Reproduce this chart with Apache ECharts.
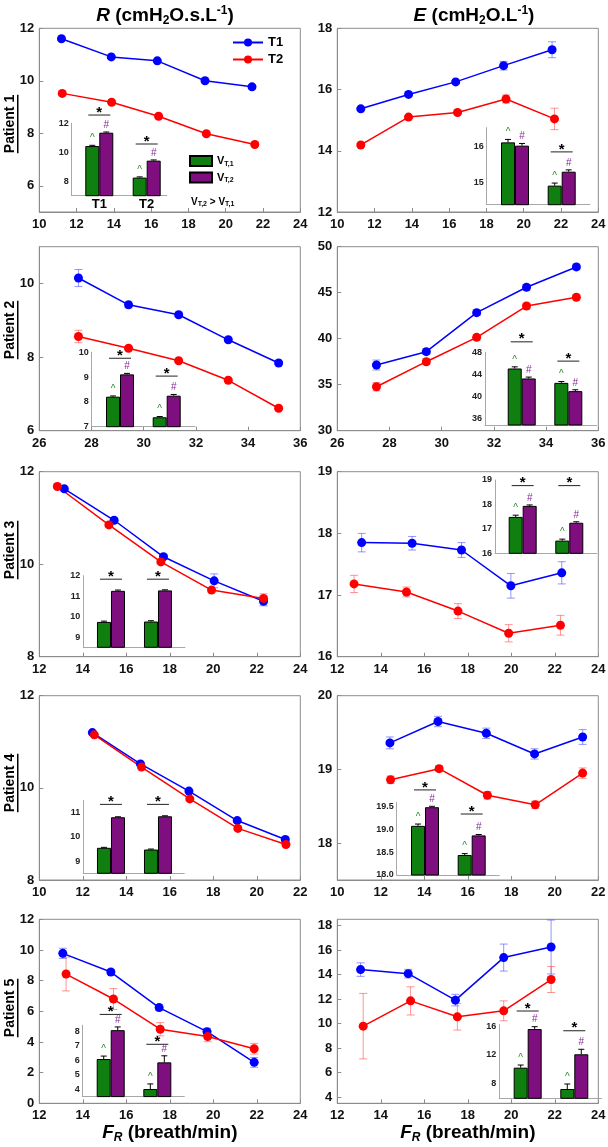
<!DOCTYPE html>
<html><head><meta charset="utf-8">
<script src="https://cdn.jsdelivr.net/npm/echarts@6.0.0/dist/echarts.min.js"></script>
<style>html,body{margin:0;padding:0;background:#fff;}#c{width:608px;height:1147px;}</style>
</head><body><div id="c"></div>
<script>
// ===== DATA: main panels, rows = [F_R (breath/min), mean, SE] =====
// Patient 1
const p1R_T1 = [[11.19,11.60,0.04],[13.86,10.91,0.04],[16.33,10.76,0.04],[18.89,10.00,0.05],[21.41,9.77,0.08]];
const p1R_T2 = [[11.23,9.52,0.04],[13.88,9.18,0.04],[16.40,8.65,0.04],[18.96,7.98,0.04],[21.56,7.57,0.04]];
const p1E_T1 = [[11.26,15.37,0.04],[13.82,15.84,0.04],[16.35,16.25,0.05],[18.92,16.78,0.14],[21.52,17.30,0.26]];
const p1E_T2 = [[11.26,14.19,0.04],[13.82,15.10,0.04],[16.45,15.25,0.05],[19.05,15.69,0.13],[21.65,15.04,0.35]];
// Patient 2
const p2R_T1 = [[27.50,10.15,0.23],[29.42,9.42,0.08],[31.34,9.15,0.05],[33.24,8.47,0.04],[35.17,7.84,0.04]];
const p2R_T2 = [[27.50,8.56,0.17],[29.42,8.24,0.05],[31.34,7.90,0.04],[33.24,7.37,0.04],[35.17,6.61,0.04]];
const p2E_T1 = [[27.50,37.14,0.54],[29.41,38.59,0.30],[31.34,42.83,0.30],[33.25,45.59,0.30],[35.16,47.80,0.30]];
const p2E_T2 = [[27.50,34.78,0.45],[29.41,37.50,0.30],[31.34,40.15,0.30],[33.25,43.55,0.30],[35.16,44.50,0.30]];
// Patient 3
const p3R_T1 = [[13.15,11.63,0.05],[15.44,10.95,0.05],[17.71,10.16,0.05],[20.04,9.64,0.15],[22.31,9.20,0.10]];
const p3R_T2 = [[12.83,11.68,0.04],[15.20,10.85,0.04],[17.59,10.05,0.04],[19.92,9.44,0.05],[22.31,9.26,0.10]];
const p3E_T1 = [[13.12,17.85,0.15],[15.44,17.84,0.11],[17.71,17.73,0.12],[19.98,17.15,0.20],[22.32,17.36,0.18]];
const p3E_T2 = [[12.77,17.18,0.14],[15.18,17.05,0.08],[17.55,16.74,0.12],[19.88,16.38,0.14],[22.26,16.51,0.16]];
// Patient 4
const p4R_T1 = [[12.44,11.20,0.03],[14.65,10.52,0.03],[16.88,9.93,0.03],[19.10,9.29,0.03],[21.31,8.88,0.03]];
const p4R_T2 = [[12.53,11.15,0.03],[14.70,10.45,0.03],[16.92,9.76,0.03],[19.13,9.12,0.03],[21.34,8.77,0.03]];
const p4E_T1 = [[12.42,19.36,0.08],[14.63,19.65,0.07],[16.85,19.49,0.07],[19.07,19.21,0.07],[21.28,19.44,0.10]];
const p4E_T2 = [[12.45,18.86,0.05],[14.68,19.01,0.04],[16.90,18.65,0.05],[19.10,18.52,0.05],[21.28,18.95,0.07]];
// Patient 5
const p5R_T1 = [[13.08,9.78,0.33],[15.29,8.56,0.15],[17.51,6.24,0.20],[19.71,4.67,0.22],[21.88,2.67,0.32]];
const p5R_T2 = [[13.23,8.43,1.10],[15.41,6.80,0.68],[17.56,4.83,0.43],[19.74,4.35,0.33],[21.88,3.56,0.35]];
const p5E_T1 = [[13.07,14.40,0.55],[15.26,14.07,0.35],[17.43,11.91,0.47],[19.65,15.38,1.10],[21.83,16.24,2.20]];
const p5E_T2 = [[13.19,9.79,2.67],[15.37,11.85,1.15],[17.52,10.55,1.08],[19.65,11.04,0.81],[21.83,13.59,1.06]];

// ===== DATA: inset bars, per group (T1, T2): [mean, SE]; star = y of significance bar; sig = ^/# marks =====
const groups = ['T1', 'T2'];
const i1R_VT1 = [[10.43,0.05],[8.25,0.05]];   const i1R_VT2 = [[11.35,0.05],[9.42,0.05]];
const i1R_star = [12.57,10.57];               const i1R_sig = [1,1];
const i1E_VT1 = [[16.10,0.08],[14.92,0.07]];  const i1E_VT2 = [[16.01,0.06],[15.30,0.05]];
const i1E_star = [null,15.84];                const i1E_sig = [1,1];
const i2R_VT1 = [[8.21,0.03],[7.38,0.03]];    const i2R_VT2 = [[9.11,0.04],[8.25,0.05]];
const i2R_star = [9.76,9.04];                 const i2R_sig = [1,1];
const i2E_VT1 = [[45.06,0.30],[42.45,0.25]];  const i2E_VT2 = [[43.25,0.25],[40.95,0.25]];
const i2E_star = [49.9,46.4];                 const i2E_sig = [1,1];
const i3R_VT1 = [[9.74,0.04],[9.76,0.04]];    const i3R_VT2 = [[11.26,0.04],[11.28,0.03]];
const i3R_star = [11.83,11.83];               const i3R_sig = [0,0];
const i3E_VT1 = [[17.49,0.07],[16.52,0.06]];  const i3E_VT2 = [[17.94,0.04],[17.25,0.04]];
const i3E_star = [18.77,18.77];               const i3E_sig = [1,1];
const i4R_VT1 = [[9.55,0.02],[9.48,0.02]];    const i4R_VT2 = [[10.81,0.02],[10.85,0.02]];
const i4R_star = [11.34,11.34];               const i4R_sig = [0,0];
const i4E_VT1 = [[19.08,0.04],[18.44,0.03]];  const i4E_VT2 = [[19.49,0.02],[18.87,0.02]];
const i4E_star = [19.87,19.34];               const i4E_sig = [1,1];
const i5R_VT1 = [[6.08,0.20],[4.02,0.35]];    const i5R_VT2 = [[8.06,0.22],[5.85,0.45]];
const i5R_star = [9.14,7.09];                 const i5R_sig = [1,1];
const i5E_VT1 = [[10.18,0.37],[7.20,0.70]];   const i5E_VT2 = [[15.58,0.33],[12.05,0.70]];
const i5E_star = [18.1,15.34];                const i5E_sig = [1,1];

// ===== TICK LABELS =====
const xt_1 = [10,12,14,16,18,20,22,24];
const xt_2 = [26,28,30,32,34,36];
const xt_3 = [12,14,16,18,20,22,24];
const xt_4 = [10,12,14,16,18,20,22];
const xt_5 = [12,14,16,18,20,22,24];
const yt_1R = [6,8,10,12];      const yt_1E = [12,14,16,18];
const yt_2R = [6,8,10];         const yt_2E = [30,35,40,45,50];
const yt_3R = [8,10,12];        const yt_3E = [16,17,18,19];
const yt_4R = [8,10,12];        const yt_4E = [18,19,20];
const yt_5R = [0,2,4,6,8,10,12];const yt_5E = [4,6,8,10,12,14,16,18];
const it_1R = ['8','10','12'];  const it_1E = ['15','16'];
const it_2R = ['7','8','9','10']; const it_2E = ['36','40','44','48'];
const it_3R = ['9','10','11','12']; const it_3E = ['16','17','18','19'];
const it_4R = ['9','10','11'];  const it_4E = ['18.0','18.5','19.0','19.5'];
const it_5R = ['4','5','6','7','8']; const it_5E = ['8','12','16'];

// ===== LAYOUT =====
const FONT = '"Liberation Sans", Arial, Helvetica, sans-serif';
const GC = '#8c8c8c';
const ROW = [[28.3,183.7],[246.7,184],[471.7,185],[695.7,184.3],[919.3,184]];
const COL = [[39.3,261],[337.3,261]];
const PAT_Y = [124,330,550,783,1008];

const mains = [
  {r:0,c:0,T1:p1R_T1,T2:p1R_T2,x:[10,24],xt:xt_1,y:[5,12],ys:1,yt:yt_1R},
  {r:0,c:1,T1:p1E_T1,T2:p1E_T2,x:[10,24],xt:xt_1,y:[12,18],ys:2,yt:yt_1E},
  {r:1,c:0,T1:p2R_T1,T2:p2R_T2,x:[26,36],xt:xt_2,y:[6,11],ys:1,yt:yt_2R},
  {r:1,c:1,T1:p2E_T1,T2:p2E_T2,x:[26,36],xt:xt_2,y:[30,50],ys:5,yt:yt_2E},
  {r:2,c:0,T1:p3R_T1,T2:p3R_T2,x:[12,24],xt:xt_3,y:[8,12],ys:2,yt:yt_3R},
  {r:2,c:1,T1:p3E_T1,T2:p3E_T2,x:[12,24],xt:xt_3,y:[16,19],ys:1,yt:yt_3E},
  {r:3,c:0,T1:p4R_T1,T2:p4R_T2,x:[10,22],xt:xt_4,y:[8,12],ys:2,yt:yt_4R},
  {r:3,c:1,T1:p4E_T1,T2:p4E_T2,x:[10,22],xt:xt_4,y:[17.5,20],ys:0.5,yt:yt_4E},
  {r:4,c:0,T1:p5R_T1,T2:p5R_T2,x:[12,24],xt:xt_5,y:[0,12],ys:2,yt:yt_5R},
  {r:4,c:1,T1:p5E_T1,T2:p5E_T2,x:[12,24],xt:xt_5,y:[3.5,18.5],ys:0.5,yt:yt_5E}
];
const insets = [
  {box:[71.7,123.3,166.7,195.7], x:[0.418,2.422], y:[7,12], ys:1, yt:it_1R, VT1:i1R_VT1, VT2:i1R_VT2, star:i1R_star, sig:i1R_sig, cats:true},
  {box:[486.7,127.7,590,204.7], x:[0.394,2.606], y:[14.4,16.5], ys:0.1, yt:it_1E, VT1:i1E_VT1, VT2:i1E_VT2, star:i1E_star, sig:i1E_sig},
  {box:[91.7,352.3,195,426.7], x:[0.394,2.606], y:[7,10], ys:1, yt:it_2R, VT1:i2R_VT1, VT2:i2R_VT2, star:i2R_star, sig:i2R_sig},
  {box:[485,352.3,596.7,425], x:[0.212,2.609], y:[34.8,48], ys:0.4, yt:it_2E, VT1:i2E_VT1, VT2:i2E_VT2, star:i2E_star, sig:i2E_sig},
  {box:[83.3,575.7,185,647.3], x:[0.411,2.575], y:[8.5,12], ys:0.5, yt:it_3R, VT1:i3R_VT1, VT2:i3R_VT2, star:i3R_star, sig:i3R_sig},
  {box:[495,480,596.7,553.3], x:[0.406,2.588], y:[16,19], ys:1, yt:it_3E, VT1:i3E_VT1, VT2:i3E_VT2, star:i3E_star, sig:i3E_sig},
  {box:[83.3,800.5,184.3,873.3], x:[0.411,2.56], y:[8.5,11.5], ys:0.5, yt:it_4R, VT1:i4R_VT1, VT2:i4R_VT2, star:i4R_star, sig:i4R_sig},
  {box:[396.7,802.2,499.3,875], x:[0.394,2.591], y:[18,19.6], ys:0.5, yt:it_4E, VT1:i4E_VT1, VT2:i4E_VT2, star:i4E_star, sig:i4E_sig},
  {box:[82.7,1025.2,184.3,1096.6], x:[0.399,2.579], y:[3.5,8.4], ys:0.5, yt:it_5R, VT1:i5R_VT1, VT2:i5R_VT2, star:i5R_star, sig:i5R_sig},
  {box:[499.3,1024.6,601.7,1098.3], x:[0.391,2.588], y:[5.9,16.2], ys:0.1, yt:it_5E, VT1:i5E_VT1, VT2:i5E_VT2, star:i5E_star, sig:i5E_sig}
];

function fmt(list) {
  return v => { for (const t of list) { if (Math.abs(parseFloat(t) - v) < 1e-6) return String(t); } return ''; };
}
const grids = [], xAxes = [], yAxes = [], series = [];
const lblStyle = {fontSize:13, fontWeight:'bold', color:'#111', fontFamily:FONT};
const nameRich = {
  i:{fontSize:19, fontWeight:'bold', fontStyle:'italic', color:'#000', fontFamily:FONT},
  s:{fontSize:12, fontWeight:'bold', fontStyle:'italic', color:'#000', fontFamily:FONT, padding:[10,0,0,0]},
  n:{fontSize:19, fontWeight:'bold', color:'#000', fontFamily:FONT}
};

mains.forEach(m => {
  const gi = grids.length;
  grids.push({left:COL[m.c][0], top:ROW[m.r][0], width:COL[m.c][1], height:ROW[m.r][1],
    show:true, borderColor:GC, borderWidth:1, backgroundColor:'transparent', containLabel:false, outerBoundsMode:'none'});
  xAxes.push({gridIndex:gi, type:'value', min:m.x[0], max:m.x[1], interval:2,
    axisLine:{onZero:false, lineStyle:{color:GC}}, axisTick:{inside:true, length:4, lineStyle:{color:GC}},
    splitLine:{show:false}, axisLabel:Object.assign({margin:6, formatter:fmt(m.xt)}, lblStyle),
    name: m.r === 4 ? '{i|F}{s|R}{n| (breath/min)}' : '', nameLocation:'middle', nameGap:14,
    nameTextStyle:{rich:nameRich}});
  yAxes.push({gridIndex:gi, type:'value', min:m.y[0], max:m.y[1], interval:m.ys,
    axisLine:{show:true, onZero:false, lineStyle:{color:GC}},
    axisTick:{show:true, inside:true, length:4, customValues:m.yt, lineStyle:{color:GC}},
    splitLine:{show:false}, axisLabel:Object.assign({margin:5, formatter:fmt(m.yt)}, lblStyle)});
  [['T1', m.T1, '#0000ff', 'rgba(60,60,255,0.55)'], ['T2', m.T2, '#ff0000', 'rgba(255,60,60,0.55)']].forEach(([nm, d, col, ecol]) => {
    series.push({type:'custom', name:nm + ' SE', xAxisIndex:gi, yAxisIndex:gi, data:d, z:2, silent:true,
      encode:{x:0, y:1},
      renderItem:(p, api) => {
        const x = api.value(0), y = api.value(1), e = api.value(2);
        const a = api.coord([x, y + e]), b = api.coord([x, y - e]);
        const st = {stroke:ecol, lineWidth:1};
        return {type:'group', children:[
          {type:'line', shape:{x1:a[0], y1:a[1], x2:b[0], y2:b[1]}, style:st},
          {type:'line', shape:{x1:a[0]-4, y1:a[1], x2:a[0]+4, y2:a[1]}, style:st},
          {type:'line', shape:{x1:b[0]-4, y1:b[1], x2:b[0]+4, y2:b[1]}, style:st}
        ]};
      }});
    series.push({type:'line', name:nm, xAxisIndex:gi, yAxisIndex:gi, data:d.map(r => [r[0], r[1]]),
      symbol:'circle', symbolSize:9, lineStyle:{color:col, width:1.5}, itemStyle:{color:col}, z:3});
  });
});

insets.forEach(s => {
  const gi = grids.length;
  grids.push({left:s.box[0], top:s.box[1], width:s.box[2]-s.box[0], height:s.box[3]-s.box[1],
    show:false, containLabel:false, outerBoundsMode:'none'});
  xAxes.push({gridIndex:gi, type:'value', min:s.x[0], max:s.x[1],
    axisLine:{onZero:false, lineStyle:{color:'#a8a8a8'}}, axisTick:{show:false}, axisLabel:{show:false}, splitLine:{show:false}});
  yAxes.push({gridIndex:gi, type:'value', min:s.y[0], max:s.y[1], interval:s.ys,
    axisLine:{show:true, onZero:false, lineStyle:{color:'#a8a8a8'}}, axisTick:{show:false}, splitLine:{show:false},
    axisLabel:{fontSize:9, fontWeight:'bold', color:'#222', margin:3, fontFamily:FONT, formatter:fmt(s.yt)}});
  ['VT1', 'VT2'].forEach((nm, j) => {
    const d = j ? s.VT2 : s.VT1;
    series.push({type:'bar', name:nm, xAxisIndex:gi, yAxisIndex:gi, data:d.map((r, g) => [g + 1, r[0]]),
      barWidth:14, barGap:'0%', itemStyle:{color:j ? '#7f0f7f' : '#0f7f0f', borderColor:'#000', borderWidth:1}, z:5});
  });
  series.push({type:'custom', name:'marks', xAxisIndex:gi, yAxisIndex:gi, z:6, silent:true,
    data:groups.map((g, i) => [i + 1, s.VT1[i][0]]), encode:{x:0, y:1},
    renderItem:(p, api) => {
      const i = p.dataIndex, gx = i + 1;
      const base = api.coord([gx, s.y[0]]);
      const cx = base[0];
      const ch = [];
      [[s.VT1[i], -7], [s.VT2[i], 7]].forEach(([r, off], j) => {
        const top = api.coord([gx, r[0]])[1], et = api.coord([gx, r[0] + r[1]])[1];
        ch.push({type:'line', shape:{x1:cx+off, y1:top, x2:cx+off, y2:et}, style:{stroke:'#000', lineWidth:1}});
        ch.push({type:'line', shape:{x1:cx+off-3, y1:et, x2:cx+off+3, y2:et}, style:{stroke:'#000', lineWidth:1}});
        if (s.sig[i]) ch.push({type:'text', x:cx+off, y:et-2, style:{text:j ? '#' : '^',
          fill:j ? '#8a2a9a' : '#2a8a2a', fontSize:10, fontFamily:FONT, align:'center', verticalAlign:'bottom'}});
      });
      if (s.star[i] != null) {
        const ys = api.coord([gx, s.star[i]])[1];
        ch.push({type:'line', shape:{x1:cx-11, y1:ys, x2:cx+11, y2:ys}, style:{stroke:'#222', lineWidth:1}});
        ch.push({type:'text', x:cx, y:ys+5, style:{text:'*', fill:'#000', fontSize:15, fontWeight:'bold',
          fontFamily:FONT, align:'center', verticalAlign:'bottom'}});
      }
      if (s.cats) ch.push({type:'text', x:cx, y:base[1]+2, style:{text:groups[i], fill:'#000', fontSize:13,
        fontWeight:'bold', fontFamily:FONT, align:'center', verticalAlign:'top'}});
      return {type:'group', children:ch};
    }});
});

// ===== decorations: titles, patient labels =====
const cvs = document.createElement('canvas').getContext('2d');
cvs.font = 'bold 14px ' + FONT;
const titleRich = {
  i:{fontSize:19, fontWeight:'bold', fontStyle:'italic', fill:'#000', color:'#000', fontFamily:FONT},
  n:{fontSize:19, fontWeight:'bold', fill:'#000', color:'#000', fontFamily:FONT},
  s:{fontSize:12, fontWeight:'bold', fill:'#000', color:'#000', fontFamily:FONT, padding:[10,0,0,0]},
  p:{fontSize:12, fontWeight:'bold', fill:'#000', color:'#000', fontFamily:FONT, padding:[0,0,10,0]}
};
const vRich = {
  v:{fontSize:10, fontWeight:'bold', fill:'#000', color:'#000', fontFamily:FONT},
  s:{fontSize:7, fontWeight:'bold', fill:'#000', color:'#000', fontFamily:FONT, padding:[5,0,0,0]}
};
const graphic = [
  {type:'text', x:165, y:16, style:{text:'{i|R}{n| (cmH}{s|2}{n|O.s.L}{p|-1}{n|)}', rich:titleRich, align:'center', verticalAlign:'middle', fill:'#000'}},
  {type:'text', x:474, y:16, style:{text:'{i|E}{n| (cmH}{s|2}{n|O.L}{p|-1}{n|)}', rich:titleRich, align:'center', verticalAlign:'middle', fill:'#000'}},
  {type:'text', x:191, y:202, style:{text:'{v|V}{s|T,2}{v| > V}{s|T,1}', rich:vRich, align:'left', verticalAlign:'middle', fill:'#000'}}
];
PAT_Y.forEach((y, i) => {
  const t = 'Patient ' + (i + 1);
  const w = cvs.measureText(t).width;
  graphic.push({type:'group', x:10, y:y, rotation:Math.PI / 2, children:[
    {type:'text', x:0, y:0, style:{text:t, fill:'#000', font:'bold 14px ' + FONT, align:'center', verticalAlign:'middle'}},
    {type:'rect', shape:{x:-w / 2, y:7, width:w, height:1.5}, style:{fill:'#000'}}
  ]});
});

const chart = echarts.init(document.getElementById('c'), null, {renderer:'canvas'});
chart.setOption({
  animation:false,
  backgroundColor:'#fff',
  grid:grids, xAxis:xAxes, yAxis:yAxes, series:series, graphic:graphic,
  legend:[
    {data:['T1', 'T2'], left:232, top:36, orient:'vertical', itemWidth:30, itemHeight:10, itemGap:4, padding:0,
      selectedMode:false, textStyle:{fontSize:13, fontWeight:'bold', color:'#000', fontFamily:FONT}},
    {data:['VT1', 'VT2'], left:189, top:155, orient:'vertical', icon:'rect', itemWidth:22, itemHeight:10, itemGap:4, padding:0,
      selectedMode:false, formatter:n => n === 'VT1' ? '{v|V}{s|T,1}' : '{v|V}{s|T,2}',
      textStyle:{rich:{v:{fontSize:11, fontWeight:'bold', color:'#000', fontFamily:FONT},
                       s:{fontSize:7, fontWeight:'bold', color:'#000', fontFamily:FONT, padding:[6,0,0,0]}}}}
  ]
});
</script></body></html>
